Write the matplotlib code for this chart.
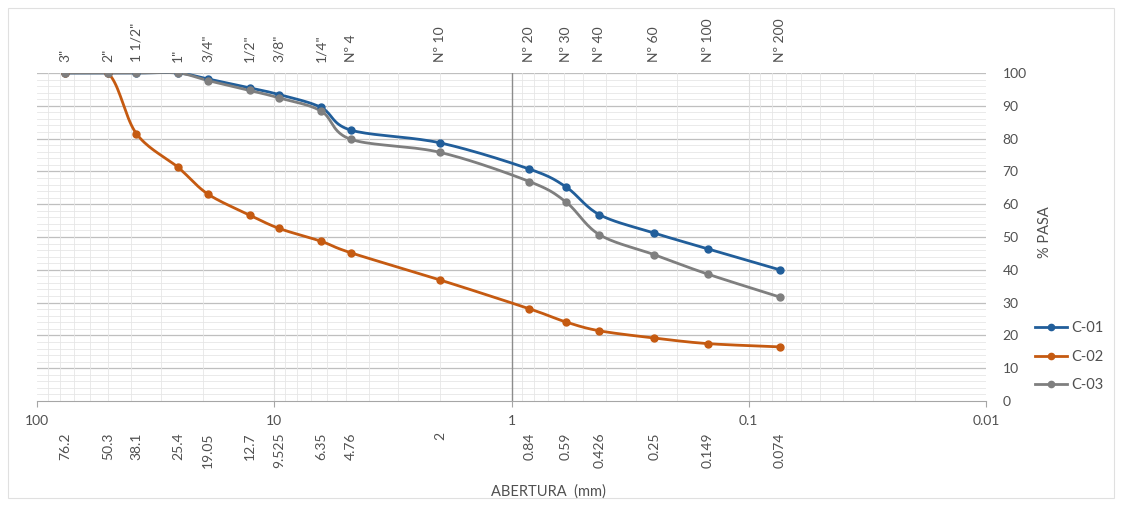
import numpy as np
import matplotlib
matplotlib.use('Agg')
from matplotlib import pyplot as plt
from matplotlib.patches import Rectangle
from matplotlib.lines import Line2D

plt.rcParams['font.family'] = ['Lato', 'DejaVu Sans']

# sieve data
sieves = ['3"', '2"', '1 1/2"', '1"', '3/4"', '1/2"', '3/8"', '1/4"', 'Nº 4',
          'Nº 10', 'Nº 20', 'Nº 30', 'Nº 40', 'Nº 60', 'Nº 100', 'Nº 200']
openings = [76.2, 50.3, 38.1, 25.4, 19.05, 12.7, 9.525, 6.35, 4.76,
            2, 0.84, 0.59, 0.426, 0.25, 0.149, 0.074]
opening_labels = ['76.2', '50.3', '38.1', '25.4', '19.05', '12.7', '9.525', '6.35', '4.76',
                  '2', '0.84', '0.59', '0.426', '0.25', '0.149', '0.074']
c01 = [100, 100, 100, 100, 98.2, 95.5, 93.4, 89.5, 82.6, 78.7, 70.7, 65.3, 56.8, 51.2, 46.4, 40.0]
c02 = [100, 100, 81.5, 71.2, 63.1, 56.7, 52.6, 48.7, 45.2, 36.9, 28.1, 24.1, 21.4, 19.2, 17.5, 16.5]
c03 = [100, 100, 100, 100, 97.7, 94.7, 92.4, 88.4, 79.8, 75.8, 66.9, 60.7, 50.7, 44.6, 38.7, 31.7]
series = [('C-01', c01, '#215E9A'), ('C-02', c02, '#C55A11'), ('C-03', c03, '#7F7F7F')]
decades = [100, 10, 1, 0.1, 0.01]

TXT = '#505050'


def smooth(xs, ys, n=20):
    # catmull-rom through the points, in log-x space (like excel's smoothed line)
    lx = np.log10(xs)
    y = np.asarray(ys, float)
    px = np.concatenate([[2 * lx[0] - lx[1]], lx, [2 * lx[-1] - lx[-2]]])
    py = np.concatenate([[2 * y[0] - y[1]], y, [2 * y[-1] - y[-2]]])
    outx, outy = [], []
    t = np.linspace(0, 1, n)
    for i in range(1, len(px) - 2):
        for p, out in ((px, outx), (py, outy)):
            p0, p1, p2, p3 = p[i - 1], p[i], p[i + 1], p[i + 2]
            out.extend(0.5 * (2 * p1 + (-p0 + p2) * t + (2 * p0 - 5 * p1 + 4 * p2 - p3) * t ** 2
                              + (-p0 + 3 * p1 - 3 * p2 + p3) * t ** 3))
    return 10 ** np.array(outx), np.array(outy)


fig = plt.figure(figsize=(11.23, 5.05), dpi=100)
fig.patches.append(Rectangle((8 / 1123, 7 / 505), 1106 / 1123, 490 / 505, transform=fig.transFigure,
                             fill=False, edgecolor='#E0E0E0', linewidth=0.8))
ax = fig.add_axes([37 / 1123, 1 - 401 / 505, 949 / 1123, 328 / 505])

ax.set_xscale('log')
ax.set_xlim(100, 0.01)
ax.set_ylim(0, 100)

# grid
for v in range(2, 100, 2):
    if v % 10:
        ax.axhline(v, color='#E6E6E6', linewidth=0.6, zorder=0)
for v in range(10, 101, 10):
    ax.axhline(v, color='#BFBFBF', linewidth=0.9, zorder=0)
for d in [10, 1, 0.1, 0.01]:
    for k in range(2, 10):
        ax.axvline(d * k, color='#E6E6E6', linewidth=0.6, zorder=0)
for d in [10, 0.1]:
    ax.axvline(d, color='#E0E0E0', linewidth=0.8, zorder=0)
ax.axvline(1, color='#8C8C8C', linewidth=1.0, zorder=1)

for name, vals, col in series:
    sx, sy = smooth(openings, vals)
    ax.plot(sx, sy, color=col, linewidth=2, zorder=3)
    ax.plot(openings, vals, 'o', color=col, markersize=5, zorder=4)

for s in ['top', 'left', 'right']:
    ax.spines[s].set_visible(False)
ax.spines['bottom'].set_color('#A6A6A6')

ax.set_xticks(decades)
ax.set_xticklabels(['100', '10', '1', '0.1', '0.01'])
ax.xaxis.set_minor_locator(matplotlib.ticker.NullLocator())
ax.tick_params(axis='x', colors='#A6A6A6', labelcolor=TXT, labelsize=10, length=4, pad=6)

ax.yaxis.tick_right()
ax.set_yticks(range(0, 101, 10))
ax.tick_params(axis='y', length=0, labelcolor=TXT, labelsize=10, pad=12)

for xv, lab in zip(openings, sieves):
    ax.text(xv, 1.035, lab, transform=ax.get_xaxis_transform(), rotation=90,
            ha='center', va='bottom', fontsize=10, color=TXT)
for xv, lab in zip(openings, opening_labels):
    ax.text(xv, -0.095, lab, transform=ax.get_xaxis_transform(), rotation=90,
            ha='center', va='top', fontsize=10, color=TXT)

fig.text(548 / 1123, 1 - 492 / 505, 'ABERTURA  (mm)', ha='center', va='center', fontsize=10.5, color=TXT)
fig.text(1045 / 1123, 1 - 232 / 505, '% PASA', ha='center', va='center', rotation=90, fontsize=10.5, color=TXT)

handles = [Line2D([0], [0], color=c, linewidth=2, marker='o', markersize=4.5) for _, _, c in series]
fig.legend(handles, [n for n, _, _ in series], loc='upper left', bbox_to_anchor=(1022 / 1123, 1 - 308 / 505),
           frameon=False, fontsize=10.5, labelcolor=TXT, handlelength=2.2, labelspacing=1.0, handletextpad=0.3)

fig.savefig('out.png', dpi=100)
